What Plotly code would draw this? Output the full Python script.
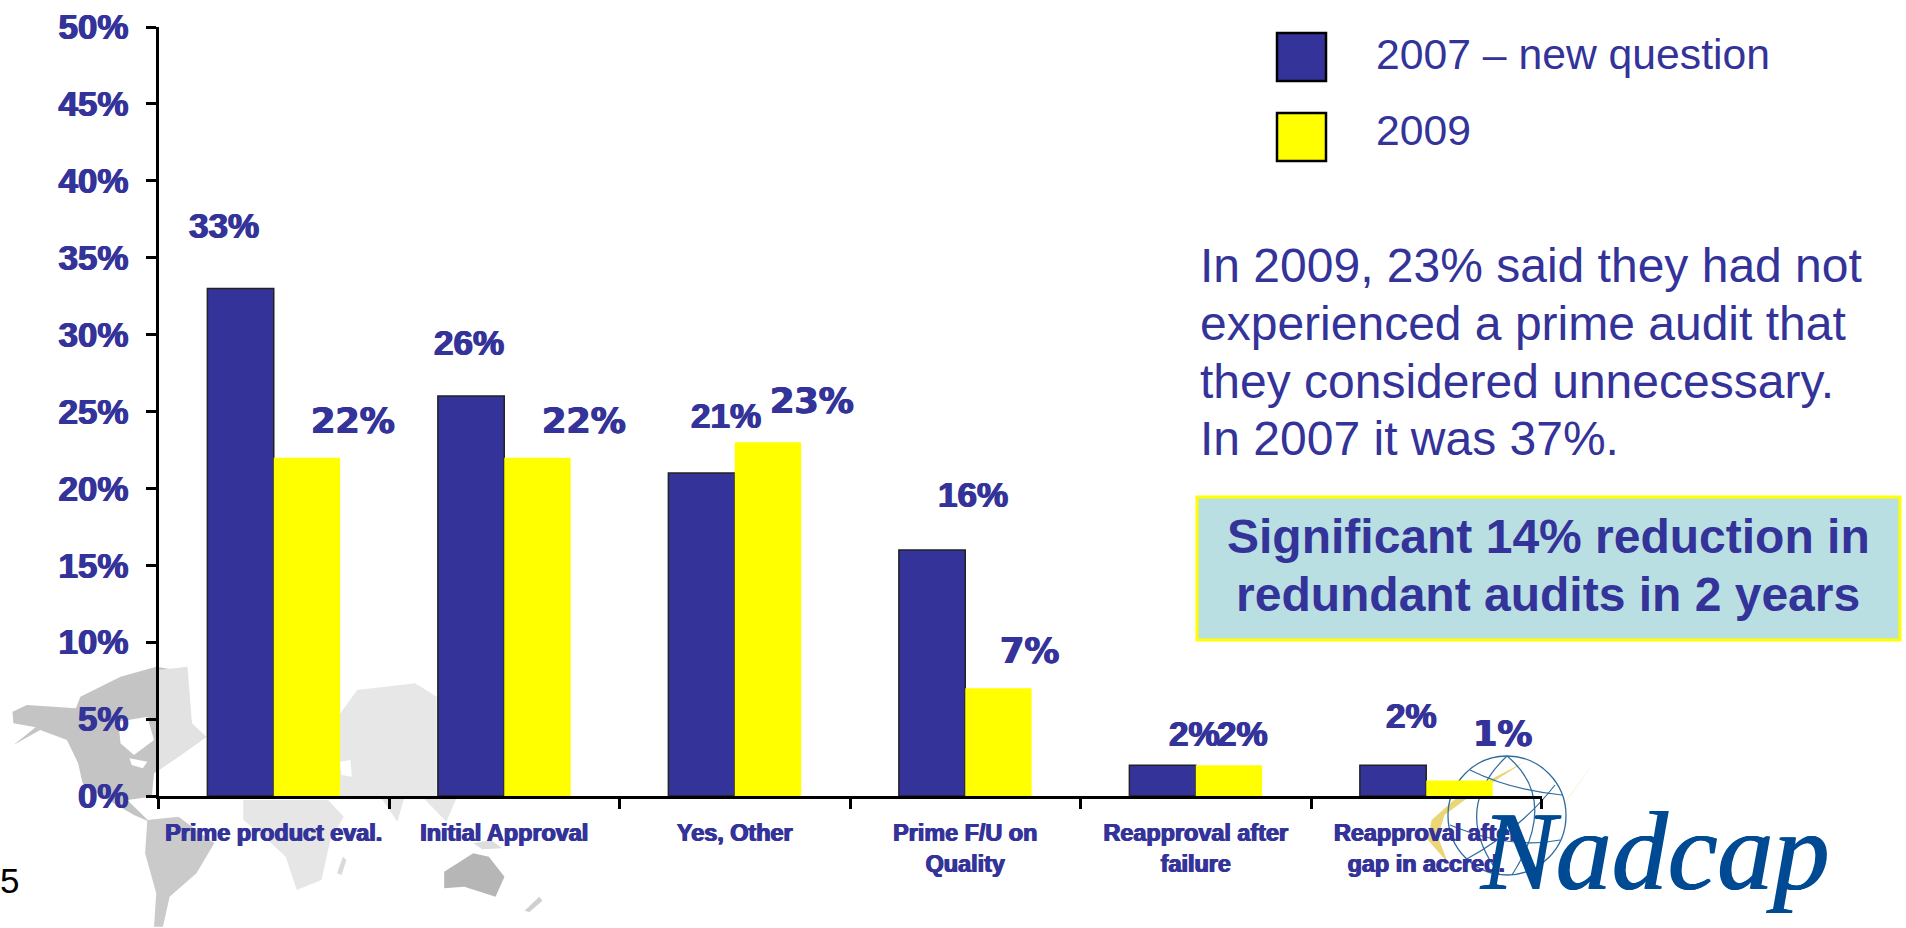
import plotly.graph_objects as go

W, H = 1906, 928

categories = ["Prime product eval.", "Initial Approval", "Yes, Other",
              "Prime F/U on<br>Quality", "Reapproval after<br>failure",
              "Reapproval after<br>gap in accred."]
values_2007 = [33, 26, 21, 16, 2, 2]
values_2009 = [22, 22, 23, 7, 2, 1]
y_ticks = [0, 5, 10, 15, 20, 25, 30, 35, 40, 45, 50]
series_names = ["2007 – new question", "2009"]
note_lines = ["In 2009, 23% said they had not", "experienced a prime audit that",
              "they considered unnecessary.", "In 2007 it was 37%."]
box_lines = ["Significant 14% reduction in", "redundant audits in 2 years"]

NAVY, YELLOW = "#333399", "#FFFF00"
SANS = "Liberation Sans, Arial, sans-serif"
SERIF = "Liberation Serif, Times New Roman, serif"
WIDE = "DejaVu Sans, Verdana, sans-serif"
HEAVY = "0.7px 0 0 #333399, -0.7px 0 0 #333399"
LOGO_BLUE = "#004A94"


def px(x):
    return x / W


def py(y):
    return 1 - y / H


def poly(points, fill, line=None, closed=True):
    d = "M " + " L ".join(f"{px(x):.5f},{py(y):.5f}" for x, y in points) + (" Z" if closed else "")
    return dict(type="path", xref="paper", yref="paper", path=d, layer="below",
                fillcolor=fill, line=dict(width=0 if line is None else 1, color=line or fill))


def z1(points):
    return [(x / 2.24, 640 + y / 3) for x, y in points]


def z2(points):
    return [(1100 + x / 1.93, 640 + y / 3) for x, y in points]


def curve(p0, c, p1, color, width=1.2):
    d = (f"M {px(p0[0]):.5f},{py(p0[1]):.5f} Q {px(c[0]):.5f},{py(c[1]):.5f} "
         f"{px(p1[0]):.5f},{py(p1[1]):.5f}")
    return dict(type="path", xref="paper", yref="paper", path=d, layer="below",
                line=dict(color=color, width=width))


shapes = [
    # world-map watermark
    poly(z1([(28, 215), (60, 195), (170, 205), (180, 170), (270, 110), (350, 80), (415, 95),
             (420, 170), (430, 260), (462, 290), (410, 340), (345, 400), (340, 470), (285, 480),
             (335, 545), (300, 525), (230, 470), (185, 430), (175, 370), (150, 300), (90, 270),
             (30, 315), (80, 262), (30, 250)]), "#C4C4C4"),
    poly(z1([(355, 90), (420, 80), (430, 250), (462, 290), (400, 350), (355, 390)]), "#E2E2E2"),
    poly(z1([(265, 245), (330, 230), (345, 300), (300, 345), (270, 310)]), "#FFFFFF"),
    poly(z1([(290, 355), (330, 365), (320, 385), (295, 375)]), "#FFFFFF"),
    poly(z1([(330, 540), (400, 530), (480, 610), (440, 700), (380, 770), (365, 860), (345, 860),
             (350, 760), (325, 640)]), "#CACACA"),
    poly(z1([(760, 225), (800, 150), (930, 130), (978, 170), (978, 470), (760, 470)]), "#E7E7E7"),
    poly(z1([(760, 365), (785, 360), (788, 410), (765, 405)]), "#FFFFFF"),
    poly(z1([(545, 480), (735, 480), (770, 530), (740, 600), (720, 720), (665, 750), (640, 650),
             (600, 600), (545, 540)]), "#E6E6E6"),
    poly(z1([(855, 476), (890, 545), (905, 476)]), "#E6E6E6"),
    poly(z1([(950, 476), (1000, 545), (1022, 476)]), "#E6E6E6"),
    poly(z1([(1060, 610), (1100, 600), (1125, 625), (1080, 628)]), "#DDDDDD"),
    poly(z1([(995, 695), (1060, 640), (1095, 650), (1130, 710), (1110, 770), (1040, 740),
             (995, 745)]), "#B6B6B6"),
    poly(z1([(755, 700), (768, 650), (776, 660), (765, 705)]), "#DADADA"),
    poly(z1([(1175, 812), (1208, 770), (1215, 782), (1186, 816)]), "#CFCFCF"),
    # logo: swoosh and globe
    poly(z2([(820, 365), (690, 470), (640, 540), (633, 600), (672, 670), (652, 590), (665, 525),
             (702, 482)]), "#EAD675"),
    poly(z2([(955, 365), (900, 480), (896, 492), (935, 410)]), "#F7F0CC"),
    dict(type="circle", xref="paper", yref="paper", x0=px(1448), x1=px(1566), y0=py(756), y1=py(875),
         layer="below", line=dict(color="#2F6C9E", width=1.3)),
    curve((1507, 756), (1450, 810), (1500, 875), "#2F6C9E"),
    curve((1507, 756), (1560, 800), (1512, 875), "#2F6C9E"),
    curve((1470, 770), (1510, 790), (1562, 795), "#2F6C9E"),
    curve((1450, 825), (1510, 850), (1560, 840), "#2F6C9E"),
    curve((1465, 860), (1520, 830), (1555, 785), "#2F6C9E"),
    # legend swatches
    dict(type="rect", xref="paper", yref="paper", x0=px(1277), x1=px(1326), y0=py(33), y1=py(81),
         fillcolor=NAVY, line=dict(color="black", width=2.5)),
    dict(type="rect", xref="paper", yref="paper", x0=px(1277), x1=px(1326), y0=py(113), y1=py(161),
         fillcolor=YELLOW, line=dict(color="black", width=2.5)),
    # call-out box
    dict(type="rect", xref="paper", yref="paper", x0=px(1197), x1=px(1900), y0=py(497), y1=py(640),
         fillcolor="#B9DFE3", line=dict(color=YELLOW, width=3)),
]


def note(x, y, text, size, bold=False, anchor="left", family=SANS, color=NAVY, italic=False, shadow=None):
    if bold:
        text = f"<b>{text}</b>"
    if italic:
        text = f"<i>{text}</i>"
    font = dict(family=family, size=size, color=color)
    if shadow:
        font["shadow"] = shadow
    return dict(xref="paper", yref="paper", x=px(x), y=py(y), text=text, showarrow=False,
                xanchor=anchor, yanchor="middle", align=anchor,
                font=font, borderpad=0, borderwidth=0)


LABEL = 35
label_xy_2007 = [(224, 226), (469, 342), (726, 415), (973, 494), (1194, 733), (1411, 715)]
label_xy_2009 = [(353, 421), (584, 421), (812, 401), (1029, 651), (1242, 733), (1502, 734)]
label_wide_2009 = [True, True, True, True, False, True]

annotations = []
for v, (x, y) in zip(values_2007, label_xy_2007):
    annotations.append(note(x, y, f"{v}%", LABEL, True, "center", shadow=HEAVY))
for v, (x, y), wide in zip(values_2009, label_xy_2009, label_wide_2009):
    annotations.append(note(x, y, f"{v}%", LABEL, True, "center", WIDE if wide else SANS, shadow=HEAVY))

annotations.append(note(1375.5, 54, series_names[0], 42.7))
annotations.append(note(1375.5, 130, series_names[1], 42.7))
for line, y in zip(note_lines, [265, 323, 381, 438]):
    annotations.append(note(1200, y, line, 48))
for line, y in zip(box_lines, [536, 594]):
    annotations.append(note(1548, y, line, 48, True, "center"))
annotations.append(note(0, 880, "5", 35, False, "left", SANS, "black"))
annotations.append(note(1480, 851, "Nadcap", 112, False, "left", SERIF, LOGO_BLUE, True,
                        shadow=f"0.8px 0 0 {LOGO_BLUE}, -0.8px 0 0 {LOGO_BLUE}"))

fig = go.Figure()
fig.add_bar(x=categories, y=values_2007, name=series_names[0], marker_color=NAVY,
            marker_line=dict(color="#222222", width=1.5))
fig.add_bar(x=categories, y=values_2009, name=series_names[1], marker_color=YELLOW,
            marker_line=dict(width=0))

fig.update_layout(
    width=W, height=H, autosize=False,
    margin=dict(l=0, r=0, t=0, b=0, pad=0, autoexpand=False),
    paper_bgcolor="white", plot_bgcolor="rgba(0,0,0,0)", showlegend=False,
    barmode="group", bargap=0.424, bargroupgap=0,
    shapes=shapes, annotations=annotations,
    xaxis=dict(domain=[px(158.5), px(1541.5)], type="category", tickson="boundaries",
               ticks="outside", ticklen=10, tickwidth=3, tickcolor="black",
               showline=True, linecolor="black", linewidth=3, showgrid=False, zeroline=False,
               ticklabelstandoff=14,
               tickfont=dict(family=SANS, size=23.4, color=NAVY, weight="bold", shadow=HEAVY)),
    yaxis=dict(domain=[py(796), py(27)], range=[0, 50], tickvals=y_ticks,
               ticktext=[f"{t}%" for t in y_ticks],
               ticks="outside", ticklen=10, tickwidth=3, tickcolor="black",
               showline=True, linecolor="black", linewidth=3, showgrid=False, zeroline=False,
               ticklabelstandoff=10,
               tickfont=dict(family=SANS, size=35, color=NAVY, weight="bold", shadow=HEAVY)),
)

fig.write_html("out.html", config={"displayModeBar": False},
               post_script="document.body.style.margin='0';document.body.style.overflow='hidden';")
